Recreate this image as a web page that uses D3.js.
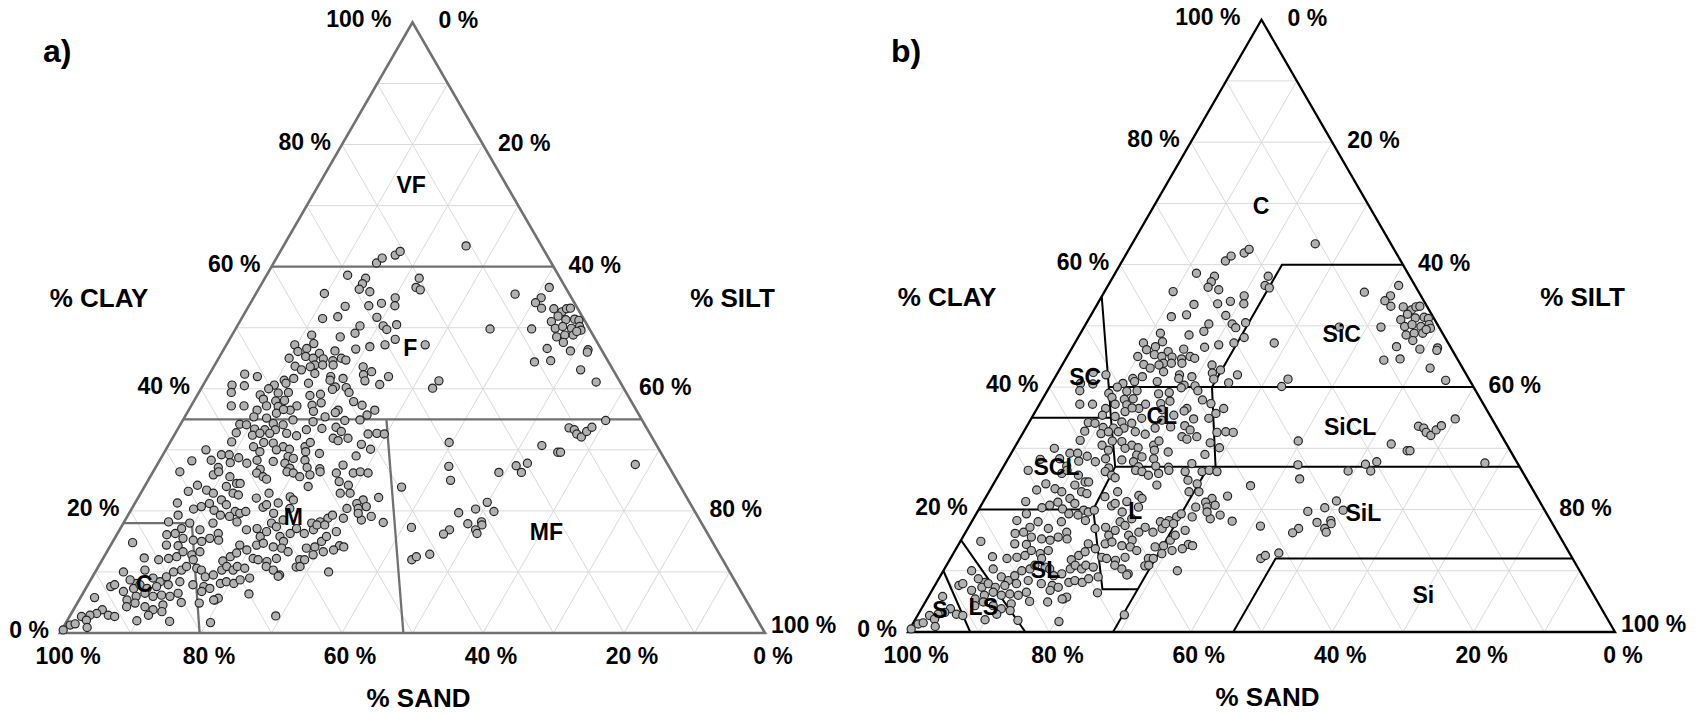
<!DOCTYPE html>
<html>
<head>
<meta charset="utf-8">
<script src="https://cdn.jsdelivr.net/npm/d3@7"></script>
<style>
  html, body { margin: 0; padding: 0; background: #fff; }
  svg { display: block; }
  text { font-family: "Liberation Sans", Arial, sans-serif; font-weight: bold; fill: #000; }
</style>
</head>
<body>
<svg id="chart" width="1702" height="713"></svg>
<script>
// Soil samples: sand and clay content (%); silt is the remainder.
const sandPct = [
  24.8,23.6,21.5,29.9,27.6,28.5,29.4,28.1,34.7,32.8,29.4,27.4,25.0,25.7,37.0,34.7,29.2,32.3,29.0,28.8,
  27.0,33.6,36.0,39.9,43.1,40.3,32.6,30.3,28.4,43.2,41.7,40.3,37.9,34.8,45.0,42.5,41.6,41.9,40.2,39.0,
  37.6,37.1,44.8,44.2,42.7,40.8,39.3,35.2,34.4,35.8,36.1,34.3,32.4,52.6,51.0,47.5,46.0,42.6,40.6,39.0,
  55.3,53.6,49.3,47.5,44.3,41.0,47.9,39.3,40.8,56.0,50.4,52.1,49.4,45.1,43.5,41.4,39.3,57.1,55.3,52.0,
  50.4,49.1,47.8,45.6,44.1,42.3,39.4,38.5,37.1,38.6,53.8,52.1,50.5,49.1,45.9,42.9,51.3,50.0,49.5,46.8,
  44.7,42.2,40.0,54.8,53.1,52.6,57.4,56.5,55.7,54.3,52.8,51.3,48.4,46.1,44.0,43.6,40.0,38.7,37.7,58.6,
  56.5,55.3,53.9,51.5,50.3,45.3,44.8,43.2,60.0,57.3,55.5,54.2,53.1,50.0,48.9,41.8,40.9,64.3,67.2,64.4,
  62.5,61.4,60.3,56.8,54.3,52.4,53.2,50.3,48.5,43.5,64.0,61.9,59.6,57.9,55.7,54.2,52.6,51.1,51.4,46.1,
  58.2,53.9,49.7,
  20.5,10.7,20.0,21.2,20.8,7.7,2.3,4.3,5.5,5.1,14.1,8.2,24.6,3.4,2.5,1.6,1.0,3.4,2.6,1.3,
  0.8,4.8,4.8,3.6,2.5,1.2,1.3,5.3,4.0,2.8,2.0,4.8,7.6,4.5,1.9,2.2,10.5,8.1,4.6,3.4,
  27.1,25.6,29.2,11.0,10.4,10.4,10.0,8.8,7.7,5.2,16.3,14.6,14.2,31.2,21.6,4.6,32.1,24.6,21.4,19.8,
  39.6,
  28.7,30.9,28.5,33.6,41.5,33.2,31.1,31.3,32.6,32.7,36.3,37.5,41.1,
  69.8,65.3,64.3,63.1,62.7,59.0,58.4,58.1,54.6,53.8,53.2,51.6,49.9,47.7,45.3,44.2,43.2,
  68.4,67.5,66.8,66.2,64.4,64.0,63.4,62.2,61.1,58.9,58.4,56.2,56.0,52.8,48.0,47.0,48.8,47.4,46.1,43.7,
  72.7,70.2,70.9,73.6,69.6,68.2,68.1,67.6,65.9,65.2,64.7,63.7,60.9,60.2,59.9,59.1,57.2,57.9,57.2,55.3,
  54.0,52.6,51.7,50.4,49.1,47.3,47.5,48.0,46.3,45.1,47.9,46.2,
  75.5,76.8,75.5,74.2,72.6,71.7,69.3,69.4,66.4,65.8,65.1,63.5,63.7,62.4,61.0,60.6,60.9,60.8,59.2,55.6,
  54.7,53.6,52.5,
  82.3,77.7,76.1,74.8,73.5,72.4,71.0,69.9,67.3,66.7,64.9,63.8,62.7,61.6,61.0,58.1,56.8,55.4,54.3,53.2,
  52.7,
  81.9,80.0,78.5,77.2,75.9,74.9,73.5,75.1,71.0,69.6,68.4,66.5,65.9,64.8,63.2,60.0,59.3,57.7,56.0,54.4,
  44.1,43.2,
  86.0,82.8,85.1,82.3,81.6,80.3,78.9,77.6,76.6,75.3,74.8,74.8,73.5,71.9,70.9,70.3,69.4,68.5,68.6,65.3,
  64.6,64.1,61.1,60.5,56.9,
  85.7,89.0,88.3,87.6,85.9,84.7,84.0,82.5,80.7,78.8,77.2,75.8,75.1,73.2,72.2,71.3,70.1,64.4,
  87.8,86.2,84.7,83.8,82.5,81.4,80.0,76.5,75.3,74.7,70.0,
  92.2,92.1,93.2,94.3,95.6,91.7,90.9,88.4,86.9,85.8,84.9,83.1,83.8,80.3,77.8,75.5,
  95.2,97.9,99.3,95.7,88.1,86.0,83.5,77.8,68.0,97.1
];
const clayPct = [
  60.6,61.4,61.9,58.6,58.1,57.2,56.3,55.9,55.6,53.5,53.6,54.0,54.9,53.6,51.5,51.8,51.7,50.3,50.3,49.7,
  50.5,49.1,48.5,48.8,47.2,47.4,46.9,47.2,48.1,46.1,46.6,45.8,46.2,46.5,45.0,45.3,45.0,43.9,44.9,44.6,
  45.0,44.7,43.7,43.1,43.6,43.9,43.9,43.6,42.8,42.3,41.3,40.7,42.0,42.4,42.0,41.4,41.7,42.5,42.0,41.7,
  40.6,40.5,40.6,40.9,40.9,41.4,39.4,40.2,40.3,39.4,40.0,39.0,39.3,38.9,39.1,39.9,39.4,37.2,37.2,38.3,
  38.0,38.1,37.2,37.3,37.7,36.5,37.9,37.3,36.5,35.7,36.5,37.2,37.1,36.5,36.3,36.1,36.0,36.6,34.9,34.6,
  35.4,34.8,34.9,35.4,35.2,34.3,34.2,34.1,33.4,33.3,33.3,34.1,33.3,33.5,33.7,33.0,32.6,32.7,32.6,32.8,
  32.4,32.7,32.7,32.7,32.3,31.9,31.5,31.9,31.3,30.5,31.2,31.1,30.5,30.5,31.2,30.9,30.1,30.0,28.2,28.3,
  29.2,29.2,28.7,29.7,30.0,30.1,28.9,29.7,29.4,29.0,27.1,27.9,27.8,28.3,28.1,27.8,28.6,28.3,27.1,27.5,
  26.8,27.0,26.9,
  62.5,63.4,58.1,56.6,56.2,55.5,56.6,54.9,54.1,53.2,49.8,49.8,47.2,53.1,52.6,53.1,53.2,51.9,51.3,51.4,
  51.2,51.0,49.9,50.2,49.9,50.2,49.6,48.5,48.8,48.8,49.4,47.6,46.6,46.2,46.4,46.0,44.4,44.6,43.1,41.1,
  40.1,41.3,31.2,33.6,33.3,32.6,32.1,33.0,33.7,34.8,30.7,29.6,29.6,27.3,27.4,27.6,25.0,26.3,26.3,27.8,
  23.9,
  21.4,20.3,19.9,19.7,17.3,17.9,18.2,17.7,16.9,16.3,16.9,16.2,12.9,
  26.4,25.9,26.4,25.6,24.5,26.2,25.6,25.2,26.4,26.2,25.6,25.9,26.4,26.2,26.2,26.4,26.2,
  24.2,23.4,22.9,21.8,24.0,22.9,22.6,24.5,22.1,22.9,21.3,22.3,21.8,24.0,24.8,24.2,22.9,22.9,21.8,22.2,
  21.3,23.2,20.3,19.3,20.7,21.2,20.1,19.3,21.0,19.9,19.6,19.9,20.6,21.0,19.6,18.5,20.4,17.1,16.3,18.0,
  18.2,18.8,19.3,18.8,20.4,21.2,20.4,18.5,19.1,18.1,19.6,20.7,
  18.2,16.1,16.3,17.1,18.0,16.9,18.0,16.3,19.1,18.2,16.9,17.1,15.8,16.6,18.0,17.4,15.8,15.0,16.3,16.9,
  17.7,17.7,16.6,
  14.8,14.4,14.3,15.5,15.2,15.0,15.5,15.2,14.4,13.6,14.4,14.7,14.1,13.9,13.3,13.9,14.1,15.0,15.8,14.3,
  14.1,
  12.3,12.0,12.2,12.5,13.3,12.8,13.3,12.0,11.8,12.5,13.1,12.2,12.0,11.7,12.2,12.0,12.0,12.8,13.3,13.6,
  12.0,12.5,
  10.0,10.3,8.1,9.0,8.4,9.2,10.0,10.3,10.9,10.6,10.3,9.2,9.5,10.3,10.9,10.3,10.9,10.6,9.0,10.9,
  10.3,9.5,10.8,10.9,10.0,
  8.7,7.6,7.9,6.8,7.3,7.9,7.3,7.6,7.9,8.4,7.9,7.6,7.3,8.1,8.4,8.1,8.7,9.3,
  5.4,6.0,6.5,6.0,6.2,6.0,6.5,6.8,5.4,5.7,6.4,
  5.8,3.8,3.2,2.9,2.7,2.9,2.7,4.3,4.9,4.3,3.8,4.6,3.5,5.0,4.9,5.4,
  2.1,1.3,0.5,0.9,2.0,2.9,1.9,1.7,2.8,1.5
];

// Axis ticks and grid spacing (%)
const tickValues = [0, 20, 40, 60, 80, 100];
const gridValues = [10, 20, 30, 40, 50, 60, 70, 80, 90];
const panelTitles = ["a)", "b)"];
const axisTitles = ["% CLAY", "% SILT", "% SAND"];

// Texture class boundaries as polylines of [sand %, clay %]
const faoBoundaries = [
  [[40, 60], [0, 60]],
  [[65, 35], [0, 35]],
  [[36.2, 35], [51.3, 0]],
  [[82, 18], [72.3, 18], [80.2, 0]]
];
const faoNames = ["VF", "F", "M", "C", "MF"];
const faoNameSand = [13.5, 27.0, 57.4, 84.0, 22.7];
const faoNameClay = [73.4, 46.6, 19.0, 8.1, 16.6];

const usdaBoundaries = [
  [[0, 60], [17.1, 60], [37.0, 40]],
  [[45.2, 54.8], [51.6, 40]],
  [[51.6, 40], [0, 40]],
  [[51.6, 40], [53.8, 35], [57.2, 27]],
  [[65, 35], [53.8, 35]],
  [[57.2, 27], [0, 27]],
  [[37.0, 40], [43.0, 27]],
  [[57.2, 27], [63.8, 20], [69.0, 7], [64.1, 7]],
  [[80, 20], [63.8, 20]],
  [[71.0, 0], [44.0, 27]],
  [[54.0, 0], [42.0, 12], [0, 12]],
  [[85, 15], [83.4, 0]],
  [[90, 10], [91.2, 0]]
];
const usdaNames = ["C", "SiC", "SiCL", "SiL", "Si", "SC", "CL", "SCL", "L", "SL", "LS", "S"];
const usdaNameSand = [15.3, 14.3, 20.7, 25.9, 24.1, 54.1, 46.5, 65.5, 58.0, 75.5, 87.3, 93.7];
const usdaNameClay = [69.5, 48.7, 33.5, 19.4, 6.0, 41.7, 35.2, 27.0, 19.7, 10.1, 4.1, 3.6];

const samples = sandPct.map((s, i) => ({ sand: s, clay: clayPct[i] }));

const svg = d3.select("#chart");
svg.append("rect").attr("width", 1702).attr("height", 713).attr("fill", "#fff");

function drawPanel(cfg) {
  const W = cfg.x1 - cfg.x0;
  const H = W * Math.sqrt(3) / 2;
  const xs = d3.scaleLinear().domain([0, 100]).range([cfg.x0, cfg.x1]);
  const ys = d3.scaleLinear().domain([0, 100]).range([cfg.yBase, cfg.yBase - H]);
  // ternary projection: horizontal position from silt + clay/2, vertical from clay
  const proj = (sand, clay) => {
    const silt = 100 - sand - clay;
    return [xs(silt + clay / 2), ys(clay)];
  };
  const line = d3.line();
  const g = svg.append("g");

  // light 10 % grid
  const grid = [];
  gridValues.forEach(k => {
    grid.push([proj(100 - k, k), proj(0, k)]);        // clay isoline
    grid.push([proj(k, 0), proj(k, 100 - k)]);        // sand isoline
    grid.push([proj(100 - k, 0), proj(0, 100 - k)]);  // silt isoline
  });
  g.selectAll("path.grid").data(grid).join("path")
    .attr("class", "grid").attr("d", line)
    .attr("fill", "none").attr("stroke", "#dadada").attr("stroke-width", 1);

  // class boundaries
  g.selectAll("path.bound").data(cfg.bounds).join("path")
    .attr("class", "bound")
    .attr("d", d => line(d.map(p => proj(p[0], p[1]))))
    .attr("fill", "none").attr("stroke", cfg.lineColor)
    .attr("stroke-width", cfg.lineWidth).attr("stroke-linejoin", "miter");

  // outline
  g.append("path")
    .attr("d", line([proj(100, 0), proj(0, 100), proj(0, 0)]) + "Z")
    .attr("fill", "none").attr("stroke", cfg.lineColor)
    .attr("stroke-width", cfg.lineWidth + 0.3).attr("stroke-linejoin", "miter");

  // samples
  g.selectAll("circle").data(samples).join("circle")
    .attr("cx", d => proj(d.sand, d.clay)[0])
    .attr("cy", d => proj(d.sand, d.clay)[1])
    .attr("r", 4.1)
    .attr("fill", "#b1b1b1").attr("stroke", "#222").attr("stroke-width", 1.15);

  // class names
  g.selectAll("text.cls").data(cfg.names).join("text")
    .attr("class", "cls")
    .attr("x", (d, i) => proj(cfg.nameSand[i], cfg.nameClay[i])[0])
    .attr("y", (d, i) => proj(cfg.nameSand[i], cfg.nameClay[i])[1])
    .attr("text-anchor", "middle").attr("dominant-baseline", "central")
    .attr("font-size", 23).text(d => d);

  // clay ticks (left side)
  g.selectAll("text.clayTick").data(tickValues).join("text")
    .attr("class", "clayTick")
    .attr("x", v => proj(100 - v, v)[0] - (v === 100 ? 21 : 11))
    .attr("y", v => proj(100 - v, v)[1] - 3)
    .attr("text-anchor", "end").attr("dominant-baseline", "central")
    .attr("font-size", 23).text(v => v + " %");

  // silt ticks (right side)
  g.selectAll("text.siltTick").data(tickValues).join("text")
    .attr("class", "siltTick")
    .attr("x", v => proj(0, 100 - v)[0] + (v === 0 ? 26 : v === 100 ? 6 : 15))
    .attr("y", v => proj(0, 100 - v)[1] - (v === 100 ? 8 : 2))
    .attr("text-anchor", "start").attr("dominant-baseline", "central")
    .attr("font-size", 23).text(v => v + " %");

  // sand ticks (base)
  g.selectAll("text.sandTick").data(tickValues).join("text")
    .attr("class", "sandTick")
    .attr("x", v => proj(v, 0)[0] + 8)
    .attr("y", v => proj(v, 0)[1] + 22.5)
    .attr("text-anchor", "middle").attr("dominant-baseline", "central")
    .attr("font-size", 23).text(v => v + " %");

  // axis titles
  const top = proj(0, 100);
  g.append("text").attr("x", cfg.x0 + 39).attr("y", cfg.yBase - 335.5)
    .attr("text-anchor", "middle").attr("dominant-baseline", "central")
    .attr("font-size", 26).text(axisTitles[0]);
  g.append("text").attr("x", cfg.x1 - 32.5).attr("y", cfg.yBase - 335.5)
    .attr("text-anchor", "middle").attr("dominant-baseline", "central")
    .attr("font-size", 26).text(axisTitles[1]);
  g.append("text").attr("x", top[0] + 6).attr("y", cfg.yBase + 64.5)
    .attr("text-anchor", "middle").attr("dominant-baseline", "central")
    .attr("font-size", 26).text(axisTitles[2]);

  // panel letter
  g.append("text").attr("x", cfg.titleX).attr("y", 61.7)
    .attr("font-size", 32).text(cfg.title);
}

drawPanel({
  x0: 60, x1: 765, yBase: 633, lineColor: "#717171", lineWidth: 2.3,
  bounds: faoBoundaries, names: faoNames, nameSand: faoNameSand, nameClay: faoNameClay,
  title: panelTitles[0], titleX: 43
});
drawPanel({
  x0: 908, x1: 1615, yBase: 632, lineColor: "#000", lineWidth: 2.0,
  bounds: usdaBoundaries, names: usdaNames, nameSand: usdaNameSand, nameClay: usdaNameClay,
  title: panelTitles[1], titleX: 891
});
</script>
</body>
</html>
